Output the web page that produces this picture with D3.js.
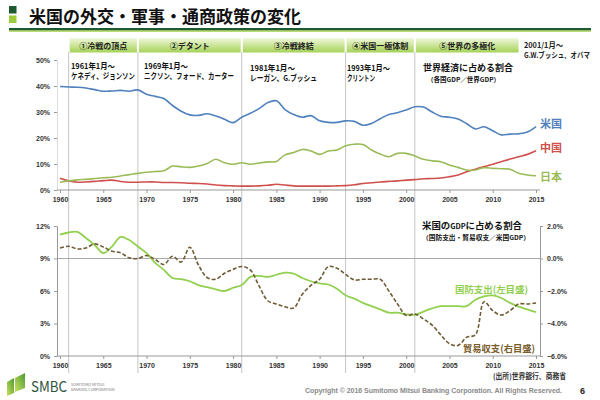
<!DOCTYPE html>
<html><head><meta charset="utf-8">
<script src="https://cdn.jsdelivr.net/npm/d3@7"></script>
<style>
html,body{margin:0;padding:0;background:#fff;}
svg{display:block;}
text{font-family:"Noto Sans CJK JP","Noto Sans",sans-serif;}
.num{font-family:"Liberation Sans",Arial,sans-serif;}
</style></head>
<body>
<svg id="c" width="600" height="400"></svg>
<script>
// ---------- DATA ----------
const years = d3.range(1960, 2016);
const usShare = [39.8,39.6,39.5,39.2,38.6,38.0,38.1,38.3,38.0,38.5,36.8,36.0,35.2,32.5,30.3,28.9,28.7,29.3,28.5,27.2,25.9,28.0,29.5,31.3,33.6,34.3,30.9,29.0,28.0,28.6,26.6,26.0,26.0,26.6,26.4,24.9,25.6,27.4,29.0,29.7,30.8,32.0,31.9,30.0,28.4,28.0,27.3,25.5,23.5,24.3,22.8,21.2,21.5,21.6,22.3,24.4];
const chinaShare = [4.5,3.5,3.0,3.1,3.3,3.6,3.8,3.3,3.0,3.0,3.1,3.1,2.9,2.9,2.8,2.6,2.5,2.3,1.9,1.7,1.6,1.5,1.5,1.6,1.8,2.2,1.9,1.6,1.5,1.5,1.5,1.5,1.6,1.7,2.0,2.5,2.8,3.1,3.3,3.5,3.8,4.0,4.3,4.4,4.6,5.1,5.8,7.0,8.0,9.0,9.9,10.9,11.9,12.8,13.7,15.1];
const japanShare = [3.0,3.5,3.9,4.1,4.4,4.7,4.9,5.4,5.9,6.4,6.8,7.1,7.4,9.2,8.9,8.7,9.2,10.2,11.8,10.5,9.9,10.5,9.9,10.4,10.8,11.0,13.5,14.4,15.6,15.0,13.7,15.0,15.4,17.0,17.6,17.5,15.4,13.8,12.8,14.1,14.1,13.1,11.8,11.2,10.9,9.6,8.7,7.7,7.7,8.6,8.3,8.2,8.0,6.4,5.8,5.5];
const defenseShare = [11.2,11.4,11.45,10.9,10.25,9.5,10.1,11.0,10.7,10.1,9.5,8.6,7.95,7.2,7.1,6.9,6.55,6.35,6.15,6.0,6.3,6.55,7.3,7.4,7.3,7.5,7.7,7.6,7.2,6.9,6.7,6.6,6.2,5.6,5.3,4.9,4.6,4.3,4.0,4.0,3.85,3.8,4.1,4.4,4.6,4.6,4.6,4.6,5.2,5.5,5.6,5.35,4.9,4.55,4.3,4.05];
const tradeBalance = [0.65,0.75,0.59,0.65,0.9,0.71,0.45,0.35,0.04,0.0,0.18,-0.06,-0.37,0.14,-0.22,0.69,-0.4,-1.17,-1.28,-0.91,-0.67,-0.49,-0.71,-1.69,-2.6,-2.8,-2.97,-3.05,-2.2,-1.65,-1.28,-0.5,-0.6,-0.98,-1.32,-1.28,-1.28,-1.28,-2.0,-2.8,-3.5,-3.41,-3.72,-4.1,-4.7,-5.24,-5.35,-4.84,-4.7,-2.66,-3.21,-3.48,-3.21,-2.8,-2.8,-2.74];
const xTicks = [1960,1965,1970,1975,1980,1985,1990,1995,2000,2005,2010,2015];
const topTicks = [0,10,20,30,40,50];
const leftTicks = [0,3,6,9,12];
const rightTicks = [-6,-4,-2,0,2];
const eraStarts = [1961,1969,1981,1993,2001];
const eraEnd = 2013.1;
const eraNames = ["①冷戦の頂点","②デタント","③冷戦終結","④米国一極体制","⑤世界の多極化"];
const eraDates = ["1961年1月～","1969年1月～","1981年1月～","1993年1月～"];
const eraPresidents = ["ケネディ、ジョンソン","ニクソン、フォード、カーター","レーガン、G.ブッシュ","クリントン"];

// layout (not data)
const eraTextX = [71,144,250,347];
const eraTextY = [69,69,71,71];
const eraDateW = [44,44,45,43];
const eraPresW = [64,90,67,28];

// ---------- SETUP ----------
const svg = d3.select("#c");
svg.append("rect").attr("width",600).attr("height",400).attr("fill","#fff");
const x = d3.scaleLinear().domain([1960,2015]).range([60,536]);
const yTop = d3.scaleLinear().domain([0,50]).range([190,60]);
const yL = d3.scaleLinear().domain([0,12]).range([356,226]);
const yR = d3.scaleLinear().domain([-6,2]).range([356,226]);

function label(xp, yp, txt, size, color, w){
  const t = svg.append("text").attr("x",xp).attr("y",yp).attr("font-size",size)
    .attr("font-weight","bold").attr("fill",color).text(txt);
  if (w) t.attr("textLength",w).attr("lengthAdjust","spacingAndGlyphs");
  return t;
}

// title
svg.append("rect").attr("x",9).attr("y",6).attr("width",7.5).attr("height",7.5).attr("fill","#1d5a30");
svg.append("rect").attr("x",9).attr("y",15.5).attr("width",7.5).attr("height",7.5).attr("fill","#9ccc3c");
label(29,22.5,"米国の外交・軍事・通商政策の変化",17,"#111");
svg.append("rect").attr("x",9).attr("y",28).attr("width",582).attr("height",2.5).attr("fill","#1d5a30");
svg.append("rect").attr("x",9).attr("y",30.5).attr("width",582).attr("height",1.2).attr("fill","#9ccc3c");

// header bands
const defs = svg.append("defs");
const g1 = defs.append("linearGradient").attr("id","band").attr("x1",0).attr("y1",0).attr("x2",0).attr("y2",1);
g1.append("stop").attr("offset","0%").attr("stop-color","#f0f8dc");
g1.append("stop").attr("offset","100%").attr("stop-color","#a6d257");
const bounds = eraStarts.concat([eraEnd]);
eraNames.forEach((n,i)=>{
  const x0 = x(bounds[i])+1, x1 = x(bounds[i+1])-1;
  svg.append("rect").attr("x",x0).attr("y",38).attr("width",x1-x0).attr("height",14.5).attr("fill","url(#band)");
  svg.append("text").attr("x",(x0+x1)/2).attr("y",48.5).attr("text-anchor","middle").attr("font-size",8).attr("font-weight","bold").attr("fill","#222").text(n);
});
label(524,48,"2001/1月～",7.6,"#222",39);
label(524,57.5,"G.W.ブッシュ、オバマ",7.6,"#222",66);

// era vertical lines
svg.selectAll(".era").data(eraStarts).enter().append("line")
  .attr("x1",d=>x(d)).attr("x2",d=>x(d)).attr("y1",52).attr("y2",373)
  .attr("stroke","#c4c4c4").attr("stroke-width",1);

// era text
eraDates.forEach((t,i)=>{
  label(eraTextX[i],eraTextY[i],t,8,"#111",eraDateW[i]);
  label(eraTextX[i],eraTextY[i]+9.5,eraPresidents[i],8,"#111",eraPresW[i]);
});

// ---------- TOP CHART ----------
function styleAxis(g){
  g.selectAll("path").attr("stroke","#999");
  g.selectAll("line").attr("stroke","#999");
  g.selectAll("text").attr("class","num").attr("font-size",7).attr("fill","#333").attr("font-weight","bold");
}
svg.append("g").attr("transform","translate(57,0)")
  .call(d3.axisLeft(yTop).tickValues(topTicks).tickFormat(d=>d+"%").tickSize(3).tickPadding(4).tickSizeOuter(0))
  .call(styleAxis)
  .call(g=>g.select(".domain").attr("stroke","#ddd"));
svg.append("g").attr("transform","translate(0,190)")
  .call(d3.axisBottom(x).tickValues(xTicks).tickFormat(d3.format("d")).tickSize(3).tickPadding(4).tickSizeOuter(0))
  .call(styleAxis)
  .call(g=>g.select(".domain").attr("d","M57,0H540"));

const lineTop = d3.line().x((d,i)=>x(years[i])).y(d=>yTop(d)).curve(d3.curveCatmullRom.alpha(0.5));
[[usShare,"#4f81bd"],[chinaShare,"#d0504d"],[japanShare,"#9bbb59"]].forEach(([s,c])=>{
  svg.append("path").datum(s).attr("d",lineTop).attr("fill","none").attr("stroke",c).attr("stroke-width",1.6);
});
label(540,128,"米国",11,"#4f81bd");
label(540,152,"中国",11,"#d0504d");
label(540,181,"日本",11,"#9bbb59");
label(423,71,"世界経済に占める割合",9,"#111",90);
label(427,82,"（各国GDP／世界GDP）",6.3,"#111",73);

// ---------- BOTTOM CHART ----------
svg.append("line").attr("x1",57).attr("x2",540).attr("y1",yL(9)).attr("y2",yL(9)).attr("stroke","#aaa").attr("stroke-width",1);
svg.append("g").attr("transform","translate(57,0)")
  .call(d3.axisLeft(yL).tickValues(leftTicks).tickFormat(d=>d+"%").tickSize(3).tickPadding(4).tickSizeOuter(0))
  .call(styleAxis);
svg.append("g").attr("transform","translate(540,0)")
  .call(d3.axisRight(yR).tickValues(rightTicks).tickFormat(d=>d3.format(".1f")(d)+"%").tickSize(3).tickPadding(4).tickSizeOuter(0))
  .call(styleAxis);
svg.append("g").attr("transform","translate(0,356)")
  .call(d3.axisBottom(x).tickValues(xTicks).tickFormat(d3.format("d")).tickSize(3).tickPadding(4).tickSizeOuter(0))
  .call(styleAxis)
  .call(g=>g.select(".domain").attr("d","M57,0H540"));

const lineDef = d3.line().x((d,i)=>x(years[i])).y(d=>yL(d)).curve(d3.curveCatmullRom.alpha(0.5));
const lineTrade = d3.line().x((d,i)=>x(years[i])).y(d=>yR(d)).curve(d3.curveCatmullRom.alpha(0.5));
svg.append("path").datum(defenseShare).attr("d",lineDef).attr("fill","none").attr("stroke","#92d050").attr("stroke-width",1.8);
svg.append("path").datum(tradeBalance).attr("d",lineTrade).attr("fill","none").attr("stroke","#6e5b34").attr("stroke-width",1.6).attr("stroke-dasharray","4,2");

const t1 = svg.append("text").attr("x",422).attr("y",229).attr("font-size",9).attr("font-weight","bold").attr("fill","#111")
  .attr("textLength",100).attr("lengthAdjust","spacingAndGlyphs");
t1.append("tspan").text("米国の");
t1.append("tspan").attr("font-size",7).text("GDP");
t1.append("tspan").text("に占める割合");
label(422,240,"（国防支出・貿易収支／米国GDP）",6.3,"#111",108);
label(455,292.5,"国防支出(左目盛)",9.5,"#92d050",73);
label(463,351.5,"貿易収支(右目盛)",9.5,"#7a5c2a",72);
label(493,379,"(出所)世界銀行、商務省",7.5,"#333",73);

// ---------- FOOTER ----------
const lg = defs.append("linearGradient").attr("id","logo").attr("x1",0).attr("y1",1).attr("x2",1).attr("y2",0);
lg.append("stop").attr("offset","0%").attr("stop-color","#c8e05a");
lg.append("stop").attr("offset","100%").attr("stop-color","#4e9a36");
svg.append("path").attr("d","M7,382 L14,378 L14,393 L7,396 Z").attr("fill","url(#logo)");
svg.append("path").attr("d","M15,378 L25,373 L25,388 L15,392 Z").attr("fill","url(#logo)");
svg.append("text").attr("x",31).attr("y",392).attr("font-family","Liberation Serif,DejaVu Serif,serif").attr("font-size",15).attr("fill","#2d5440")
  .attr("textLength",36).attr("lengthAdjust","spacingAndGlyphs").text("SMBC");
svg.append("text").attr("x",71).attr("y",386).attr("font-family","Liberation Serif,serif").attr("font-size",3.8).attr("fill","#777").text("SUMITOMO MITSUI");
svg.append("text").attr("x",71).attr("y",391).attr("font-family","Liberation Serif,serif").attr("font-size",3.8).attr("fill","#777").text("BANKING CORPORATION");
svg.append("text").attr("x",305).attr("y",393).attr("class","num").attr("font-size",7).attr("font-weight","bold").attr("fill","#8a8a8a")
  .attr("textLength",257).attr("lengthAdjust","spacing")
  .text("Copyright © 2016 Sumitomo Mitsui Banking Corporation. All Rights Reserved.");
svg.append("text").attr("x",580).attr("y",394).attr("class","num").attr("font-size",9).attr("font-weight","bold").attr("fill","#222").text("6");
</script>
</body></html>
